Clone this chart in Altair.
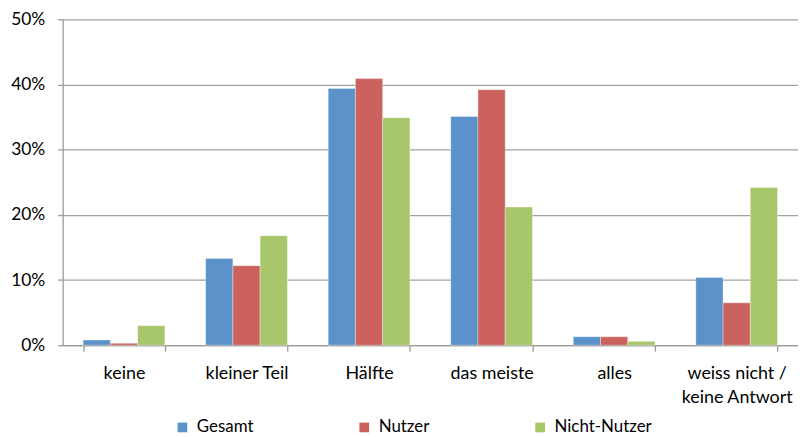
import altair as alt
import pandas as pd

categories = ["keine", "kleiner Teil", "Hälfte", "das meiste", "alles", "weiss nicht / keine Antwort"]
series = ["Gesamt", "Nutzer", "Nicht-Nutzer"]
gesamt = [0.8, 13.3, 39.4, 35.1, 1.3, 10.4]
nutzer = [0.3, 12.2, 40.9, 39.2, 1.3, 6.5]
nicht_nutzer = [3.0, 16.8, 34.9, 21.2, 0.6, 24.2]
colors = ["#5B92C9", "#CC625E", "#A8C66A"]

rows = []
for s, vals in zip(series, [gesamt, nutzer, nicht_nutzer]):
    for c, v in zip(categories, vals):
        rows.append({"Kategorie": c, "Gruppe": s, "Wert": v / 100})
df = pd.DataFrame(rows)

FONT = "Lato"

chart = alt.Chart(df).mark_bar(stroke="white", strokeWidth=0.6, strokeOpacity=0.6).encode(
    x=alt.X(
        "Kategorie:N",
        sort=categories,
        scale=alt.Scale(paddingInner=0.333, paddingOuter=0.167),
        axis=alt.Axis(
            title=None,
            labelAngle=0,
            tickBand="extent",
            tickSize=6,
            tickColor="#9a9a9a",
            domainColor="#9a9a9a",
            labelFont=FONT,
            labelFontSize=18,
            labelColor="#000000",
            labelPadding=13,
            labelLineHeight=25,
            labelExpr="split(datum.label, '/ ').length > 1 ? [split(datum.label, '/ ')[0] + '/', split(datum.label, '/ ')[1]] : datum.label",
        ),
    ),
    xOffset=alt.XOffset("Gruppe:N", sort=series),
    y=alt.Y(
        "Wert:Q",
        scale=alt.Scale(domain=[0, 0.5]),
        axis=alt.Axis(
            title=None,
            format=".0%",
            values=[0, 0.1, 0.2, 0.3, 0.4, 0.5],
            tickSize=5,
            tickColor="#9a9a9a",
            domainColor="#9a9a9a",
            gridColor="#a2a2a2",
            gridWidth=1.3,
            labelFont=FONT,
            labelFontSize=17.5,
            labelColor="#000000",
            labelPadding=13,
        ),
    ),
    color=alt.Color(
        "Gruppe:N",
        sort=series,
        scale=alt.Scale(domain=series, range=colors),
        legend=alt.Legend(
            title=None,
            orient="none",
            direction="horizontal",
            legendX=112,
            legendY=402,
            symbolType="square",
            symbolSize=95,
            symbolStrokeWidth=0,
            labelFont=FONT,
            labelFontSize=17,
            labelColor="#000000",
            labelOffset=6,
            columnPadding=102,
        ),
    ),
).properties(
    width=740,
    height=328,
    padding={"left": 2, "top": 1, "right": 0, "bottom": 0},
).configure_view(stroke=None).configure_axis(domainWidth=1.3, tickWidth=1.3)

chart.save("out.html", embed_options={"renderer": "svg", "actions": False})
